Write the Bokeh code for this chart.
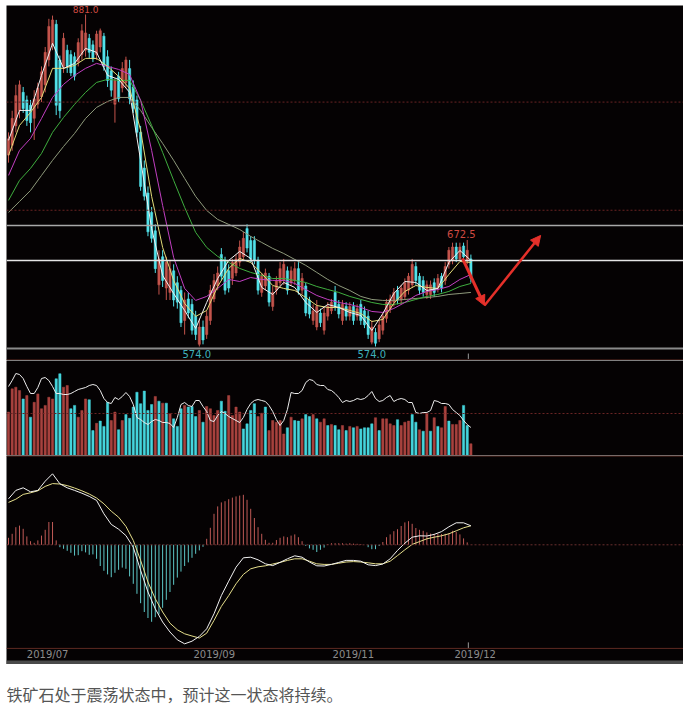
import numpy as np
from bokeh.plotting import figure
from bokeh.layouts import column, row
from bokeh.models import Range1d, Span, Arrow, NormalHead, Spacer
from bokeh.embed import file_html
from bokeh.resources import INLINE
from bokeh.core.properties import value

# ---------------- data ----------------
opens = [751, 760, 778, 792, 809, 802, 797, 785, 798, 805, 816, 839, 853, 872, 839, 833, 848, 844, 842, 837,
         844, 848, 859, 853, 844, 851, 861, 842, 829, 798, 824, 813,
         818, 831, 814, 802, 772, 739, 716, 698, 681, 631, 657, 628,
         624, 644, 633, 626, 598, 618, 613, 602, 576, 592, 585, 598, 618, 630, 659, 654, 644, 637, 642, 652,
         657, 683, 672, 672, 654, 624, 630, 639, 611,
         626, 633, 635, 644, 633, 635, 646, 626, 630, 617, 598, 592, 605, 589, 602, 607, 624,
         613, 598, 611, 602, 611, 602, 613, 607, 602, 578, 587, 581, 589, 600, 609, 615, 626, 617, 620, 626,
         631, 648, 639, 635, 622,
         622, 633, 628, 639, 635, 650, 654, 666, 655, 667, 654, 655]
highs = [772, 792, 816, 820, 814, 806, 802, 811, 818, 833, 851, 877, 880, 876, 843, 864, 853, 848, 846, 859,
         872, 881, 863, 857, 866, 868, 864, 848, 833, 822, 828, 837,
         842, 839, 820, 806, 778, 746, 722, 703, 687, 663, 663, 657,
         654, 650, 639, 630, 624, 624, 618, 607, 600, 598, 607, 631, 641, 648, 665, 657, 650, 655, 659, 672,
         680, 687, 676, 676, 657, 642, 646, 642, 630,
         639, 652, 655, 648, 648, 652, 652, 642, 633, 620, 613, 617, 609, 611, 615, 618, 630,
         617, 617, 615, 615, 615, 613, 617, 611, 607, 598, 591, 598, 605, 618, 622, 628, 630, 631, 637, 642,
         655, 652, 642, 639, 635,
         635, 637, 641, 642, 652, 666, 670, 670, 670, 670, 672.5, 659]
lows = [744, 755, 772, 785, 790, 778, 772, 765, 794, 800, 809, 833, 848, 788, 785, 827, 827, 824, 820, 833,
        839, 842, 840, 837, 839, 846, 829, 814, 805, 781, 800, 809,
        813, 798, 790, 768, 718, 709, 676, 670, 642, 622, 629, 617,
        617, 611, 609, 592, 585, 600, 585, 580, 574, 576, 581, 594, 615, 626, 635, 622, 624, 631, 639, 648,
        654, 661, 652, 650, 622, 620, 626, 611, 607,
        622, 630, 631, 622, 630, 631, 622, 622, 602, 600, 594, 589, 592, 585, 598, 604, 607,
        600, 594, 598, 598, 594, 598, 594, 591, 581, 576, 574, 578, 585, 596, 605, 611, 613, 613, 617, 622,
        628, 631, 622, 620, 618,
        618, 620, 624, 624, 631, 646, 650, 652, 654, 654, 650, 633]
closes = [766, 785, 806, 816, 794, 783, 781, 803, 813, 828, 846, 870, 876, 797, 792, 859, 833, 827, 824, 855,
          866, 864, 846, 840, 863, 866, 833, 820, 811, 820, 803, 831,
          839, 803, 794, 772, 722, 713, 680, 674, 646, 655, 635, 652,
          646, 617, 615, 596, 617, 605, 589, 585, 592, 580, 602, 626, 635, 642, 639, 626, 628, 652, 655, 666,
          674, 665, 655, 654, 626, 639, 642, 615, 624,
          635, 646, 650, 626, 644, 646, 626, 637, 605, 604, 607, 611, 596, 605, 611, 615, 611,
          604, 613, 602, 611, 598, 609, 598, 594, 585, 592, 577, 594, 602, 615, 618, 624, 617, 628, 633, 639,
          650, 635, 626, 624, 631,
          631, 624, 637, 628, 648, 663, 666, 655, 666, 657, 663, 637]

# moving averages, sampled every 3 bars
ma_idx = list(range(0, 127, 3))
ma5 = [764.6, 792.3, 792.3, 824.7, 854.3, 831.2, 835.8, 849.7, 846.0, 824.7, 821.0, 809.0, 746.1, 683.2,
       639.7, 623.0, 607.3, 590.7, 614.7, 636.9, 653.6, 661.9, 655.4, 628.6, 622.1, 633.2, 628.6, 614.7,
       605.5, 612.9, 610.1, 605.5, 602.7, 588.8, 604.5, 623.0, 634.1, 633.2, 625.8, 627.7, 651.7, 662.8, 653.6]
ma10 = [750.7, 778.4, 790.5, 804.3, 831.2, 831.2, 833.9, 840.4, 840.4, 833.0, 823.8, 812.7, 773.8, 712.8,
        665.6, 635.1, 613.8, 601.8, 607.3, 629.5, 646.2, 655.4, 651.7, 641.5, 630.4, 627.7, 625.8, 619.3,
        611.9, 610.1, 610.1, 607.3, 604.5, 597.1, 599.0, 613.8, 624.9, 630.4, 628.6, 627.7, 640.6, 652.6, 651.7]
ma20 = [732.2, 755.3, 766.4, 784.9, 804.3, 816.4, 824.7, 831.2, 835.8, 833.0, 830.2, 825.6, 801.6, 755.3,
        704.4, 656.3, 627.7, 616.6, 620.3, 627.7, 636.0, 634.1, 637.8, 636.0, 635.1, 635.1, 632.3, 626.7,
        621.2, 617.5, 614.7, 612.9, 610.1, 606.4, 605.5, 609.2, 614.7, 621.2, 624.9, 626.7, 629.5, 636.0, 640.6]
ma40 = [709.1, 727.6, 738.7, 752.5, 772.0, 785.8, 797.9, 809.0, 818.2, 821.0, 820.1, 820.1, 801.6, 778.4,
        753.5, 727.6, 702.6, 679.5, 665.6, 657.3, 651.7, 646.2, 642.5, 639.7, 636.9, 636.9, 635.1, 633.2,
        629.5, 626.7, 624.0, 620.3, 617.5, 614.7, 612.9, 612.9, 614.7, 617.5, 620.3, 622.1, 624.9, 629.5, 632.3]
ma60 = [698.0, 708.1, 718.3, 732.2, 746.1, 759.0, 771.0, 784.9, 795.1, 800.6, 804.3, 804.3, 792.3, 776.6,
        761.8, 746.1, 729.4, 712.8, 699.8, 691.5, 686.9, 682.2, 675.8, 670.2, 664.7, 660.0, 654.5, 649.0,
        642.5, 636.0, 630.4, 625.8, 620.3, 617.5, 616.6, 616.6, 617.5, 618.4, 619.3, 620.3, 622.1, 623.0, 624.0]

# volume (10k lots) and bar colour (R = red, C = cyan)
volume = [155, 238, 244, 232, 202, 214, 137, 190, 220, 167, 179, 208, 202, 274, 292, 244, 250, 167, 179, 137,
          161, 202, 199, 89, 115, 123, 104, 190, 125, 155, 92, 125, 146, 133, 173, 226, 185, 230, 161, 182,
          211, 194, 187, 187, 149, 131, 104, 167, 179, 173, 175, 139, 161, 119, 175, 167, 143, 161, 194, 158,
          214, 143, 173, 155, 95, 113, 161, 185, 139, 151, 173, 89, 125, 119, 125, 77, 99, 137, 125, 123,
          131, 146, 139, 146, 131, 119, 131, 107, 111,
          107, 92, 107, 89, 104, 99, 104, 95, 99, 99, 113, 135, 89, 131, 131, 113, 107, 128, 107, 119,
          123, 146, 119, 92, 87, 151, 87, 135, 104, 99, 175, 123, 111, 111, 125, 179, 107, 42]
vol_dir = ("RRRRCRCRRR" "RRRCCRRCCR" "RRCCRCCCRR" "CRCCCCCCCC" "RCRCRCCCRC" "CCRCRRRRCC"
           "RRRRCCCCRR" "CRRRRRCRCC" "RCCRCRRCR"
           "CCRCRCRCCC" "CRCRRRRCRR" "RCCRCRCRCR" "RCRRRCCR")
# open interest (10k lots)
open_int = [117.6, 120.0, 122.8, 122.4, 120.8, 117.6, 114.8, 114.8, 117.2, 120.8, 121.2, 120.0, 117.6, 114.8,
            114.8, 114.4, 114.4, 114.8, 115.6, 116.4, 116.8, 117.2, 118.0, 118.4, 118.0, 116.0, 112.8, 111.2,
            110.8, 113.2, 112.4, 113.6, 115.2, 113.6, 110.4, 105.2, 104.4, 103.2, 102.4, 103.6, 104.4, 104.0,
            103.2, 103.2, 102.8, 101.2, 105.2, 110.4, 111.2, 110.0, 109.6, 112.0, 112.0, 109.6, 107.6, 104.0,
            103.6, 106.0, 107.6, 106.8, 105.6, 104.8, 104.0, 103.2, 105.2, 108.4, 110.8, 112.0, 112.4, 112.0,
            111.6, 110.0, 107.6, 104.4, 102.0, 104.0, 108.4, 115.2, 114.8, 114.8, 116.0, 119.2, 120.4, 120.0,
            118.4, 118.0, 118.0, 116.4, 116.0, 114.8, 113.2, 111.2, 112.0, 111.6, 112.0, 112.8, 112.4, 112.8,
            114.0, 115.6, 112.8, 111.6, 112.0, 113.2, 114.0, 111.6, 112.4, 112.8, 112.4, 111.2, 111.2, 107.2,
            106.8, 107.2, 107.2, 108.0, 112.0, 111.6, 110.8, 110.8, 110.4, 108.4, 107.2, 106.0, 104.0, 102.4,
            101.2]

# MACD
macd_hist = [1.75, 2.75, 4.4, 4.8, 4.0, 2.1, 0.9, 0.5, 1.1, 2.3,
             3.75, 5.7, 5.7, 1.1, -0.6, -1.0, -1.5, -2.0, -2.7, -2.6,
             -1.6, -1.9, -2.5, -2.4, -3.5, -5.3, -6.5, -7.4, -8.1, -7.0,
             -6.25, -5.7, -6.0, -7.9, -9.75, -12.25, -14.6, -16.8, -18.3, -19.25,
             -18.1, -17.4, -15.75, -13.75, -11.8, -10.0, -8.2, -6.7, -5.3, -4.4,
             -3.25, -2.25, -1.4, -0.5, 1.5, 4.25, 7.75, 9.6, 10.6, 10.9,
             11.4, 11.8, 12.1, 12.3, 12.5, 11.25, 9.0, 6.7, 4.4, 2.75,
             1.25, 0.5, 0.5, 1.2, 1.75, 2.1, 1.9, 2.3, 2.6, 1.9,
             0.9, -0.25, -0.9, -1.25, -1.8, -1.25, -0.7, 0.2, 0.4, 0.4,
             0.4, 0.4, 0.3, 0.4, 0.3, 0.25, 0.2, 0.0, -0.6, -1.1,
             -1.1, -0.3, 0.7, 1.9, 2.6, 3.4, 3.9, 4.7, 5.6, 5.9,
             5.25, 4.2, 3.75, 3.5, 3.1, 2.8, 2.75, 2.75, 2.7, 2.75,
             2.9, 3.5, 3.2, 2.6, 1.6, 0.6, 0.0]
macd_idx = list(range(0, 127, 2))
dif = [11.5, 13.6, 14.25, 13.25, 13.6, 15.9, 17.75, 15.25, 14.25, 13.6, 12.9, 12.1, 11.1, 7.75, 5.1, 3.9,
       2.3, -0.6, -6.4, -11.8, -16.0, -19.3, -21.8, -23.75, -24.75, -24.1, -22.9, -21.0, -17.25, -12.7, -9.1,
       -5.6, -3.25, -3.1, -3.75, -4.75, -5.2, -4.4, -3.5, -2.75, -3.1, -4.3, -5.25, -5.3, -4.9, -4.4, -3.9,
       -3.9, -4.1, -5.0, -5.2, -4.8, -3.5, -1.4, 0.4, 1.9, 2.25, 2.2, 2.6, 3.3, 4.5, 5.5, 5.5, 4.75]
dea = [10.6, 11.4, 12.6, 13.0, 13.5, 14.6, 15.3, 15.2, 14.8, 14.2, 13.5, 12.7, 11.7, 10.25, 8.4, 6.9,
       4.6, 1.1, -3.9, -9.3, -13.5, -16.8, -19.6, -21.25, -22.25, -22.8, -23.3, -22.1, -18.9, -15.4, -12.7,
       -9.75, -7.4, -6.0, -5.5, -5.25, -4.8, -4.4, -3.9, -3.5, -3.5, -4.1, -4.75, -4.9, -4.9, -4.6, -4.3,
       -4.2, -4.3, -4.5, -4.75, -4.75, -4.1, -2.7, -1.25, 0.1, 0.8, 1.5, 1.9, 2.25, 2.75, 3.5, 4.25, 4.75]

# marks and labels
hi_label = ("881.0", 21, 881.0)
hi2_label = ("672.5", 123.4, 672.5)
lo_labels = ["574.0", "574.0"]
lo_pos = [51.3, 99]
support_lines = [686.0, 653.5]
grid_prices = [800, 700]
month_labels = ["2019/07", "2019/09", "2019/11", "2019/12"]
month_pos = [5, 50.4, 88.3, 121.5]
last_tick = 125.3
arrow_x = [123.7, 129.7, 145.0]
arrow_y = [655.4, 611.9, 676.7]
caption = "铁矿石处于震荡状态中，预计这一状态将持续。"

# ---------------- drawing ----------------
W = 677
BG = "#050203"
XR = (-0.545, 183.93)
UP, DN = "#c4544c", "#52e2ea"
VUP, VDN = "#a8423e", "#45d5dc"
GRID = "#6a2424"
BROWN = "#5e2a22"
N = len(opens)
x = np.arange(N)


def panel(h, y0, y1):
    p = figure(width=W, height=h, x_range=Range1d(*XR), y_range=Range1d(y0, y1),
               x_axis_location=None, y_axis_location=None, output_backend="svg",
               toolbar_location=None, min_border=0, background_fill_color=BG,
               border_fill_color=BG, outline_line_color=None)
    p.grid.visible = False
    return p


# price panel: 355 px, 1.0814 px per price unit
p1 = panel(355, 561.05, 889.32)
for gp in grid_prices:
    p1.add_layout(Span(location=gp, dimension="width", line_color=GRID, line_dash="2 2", line_width=1))
p1.add_layout(Span(location=support_lines[0], dimension="width", line_color="#a8a8a8", line_width=1.5))
p1.add_layout(Span(location=support_lines[1], dimension="width", line_color="#e6e6e6", line_width=1.5))
p1.add_layout(Span(location=572.2, dimension="width", line_color="#8a8a8a", line_width=2))
p1.add_layout(Span(location=561.5, dimension="width", line_color=BROWN, line_width=1))

inc = [c >= o for o, c in zip(opens, closes)]
ccol = [UP if u else DN for u in inc]
p1.segment(x, highs, x, lows, line_color=ccol, line_width=1)
p1.vbar(x=x, width=0.62, top=np.maximum(opens, closes), bottom=np.minimum(opens, closes),
        fill_color=ccol, line_color=ccol, line_width=0.5)

p1.line(ma_idx, ma60, line_color="#8f9a7c", line_width=1)
p1.line(ma_idx, ma40, line_color="#3fae3f", line_width=1)
p1.line(ma_idx, ma20, line_color="#c23fc2", line_width=1)
p1.line(ma_idx, ma10, line_color="#e4dc78", line_width=1)
p1.line(ma_idx, ma5, line_color="#f2f2f2", line_width=1)

p1.segment([last_tick], [562.5], [last_tick], [567.5], line_color="#9a9a9a", line_width=1)

p1.text(x=[hi_label[1]], y=[889.2], text=[hi_label[0]], text_align="center",
        text_baseline="top", text_font_size="9px", text_color="#d04a42",
        text_font=value("DejaVu Sans"))
p1.text(x=[hi2_label[1]], y=[hi2_label[2] + 1.5], text=[hi2_label[0]], text_align="center",
        text_baseline="bottom", text_font_size="10px", text_color="#d04a42",
        text_font=value("DejaVu Sans"))
p1.text(x=lo_pos, y=[566.6, 566.6], text=lo_labels, text_align="center", text_baseline="middle",
        text_font_size="10px", text_color="#3fb0ba", text_font=value("DejaVu Sans"))

ARR = "#e5302a"
p1.add_layout(Arrow(end=NormalHead(size=10, fill_color=ARR, line_color=ARR),
                    x_start=arrow_x[0], y_start=arrow_y[0], x_end=arrow_x[1], y_end=arrow_y[1],
                    line_color=ARR, line_width=3))
p1.add_layout(Arrow(end=NormalHead(size=10, fill_color=ARR, line_color=ARR),
                    x_start=arrow_x[1], y_start=arrow_y[1], x_end=arrow_x[2], y_end=arrow_y[2],
                    line_color=ARR, line_width=2.5))

# volume panel
p2 = panel(95, 0, 339.3)
p2.add_layout(Span(location=150, dimension="width", line_color=GRID, line_dash="2 2", line_width=1))
vcol = [VUP if d == "R" else VDN for d in vol_dir]
p2.vbar(x=x, width=0.62, top=volume, bottom=0, fill_color=vcol, line_color=vcol, line_width=0.5)
p2.extra_y_ranges = {"oi": Range1d(90, 128)}
p2.line(x, open_int, y_range_name="oi", line_color="#ececec", line_width=1)

# MACD panel
p3 = panel(209, -29.925, 22.325)
p3.add_layout(Span(location=22.2, dimension="width", line_color=BROWN, line_width=1))
p3.add_layout(Span(location=0, dimension="width", line_color="#6a3030", line_dash="2 2", line_width=1))
p3.add_layout(Span(location=-25.9, dimension="width", line_color=BROWN, line_width=1))
hcol = ["#c05a56" if h >= 0 else "#5ec8c8" for h in macd_hist]
p3.segment(x, 0, x, macd_hist, line_color=hcol, line_width=1)
p3.line(macd_idx, dea, line_color="#e6df8c", line_width=1)
p3.line(macd_idx, dif, line_color="#f2f2f2", line_width=1)
p3.quad(left=[XR[0]], right=[XR[1]], bottom=[-29.925], top=[-28.9], fill_color="#4a4a4a", line_color=None)
p3.segment([last_tick], [-25.9], [last_tick], [-24.4], line_color="#9a9a9a", line_width=1)
p3.text(x=month_pos, y=[-27.5] * len(month_pos), text=month_labels, text_align="left",
        text_baseline="middle", text_font_size="10px", text_color="#8c8c8c",
        text_font=value("DejaVu Sans"))

# caption
p4 = figure(width=W, height=45, x_range=Range1d(0, W), y_range=Range1d(0, 45),
            x_axis_location=None, y_axis_location=None, output_backend="svg",
            toolbar_location=None, min_border=0, background_fill_color="white",
            border_fill_color="white", outline_line_color=None)
p4.grid.visible = False
p4.text(x=[0], y=[16], text=[caption], text_align="left", text_baseline="middle",
        text_font_size="16px", text_color="#555555", text_font=value("Noto Sans CJK SC"))

layout = row(Spacer(width=6), column(Spacer(height=5), p1, p2, p3, p4, spacing=0), spacing=0)
open("out.html", "w").write(file_html(layout, INLINE))
